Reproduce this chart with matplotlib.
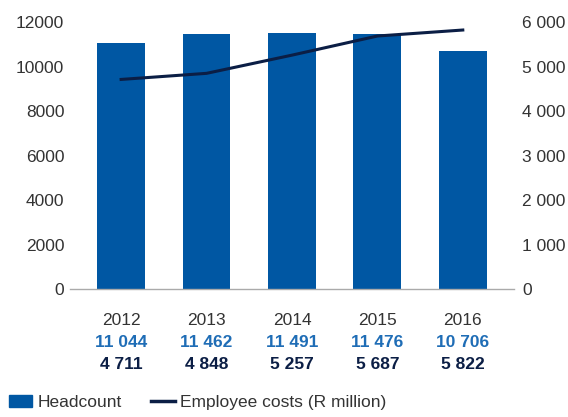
import matplotlib
matplotlib.use("Agg")
import matplotlib.pyplot as plt
from matplotlib.lines import Line2D
from matplotlib.patches import Patch
from matplotlib.ticker import FuncFormatter

plt.rcParams["font.family"] = ["Liberation Sans", "DejaVu Sans"]

years = ["2012", "2013", "2014", "2015", "2016"]
headcount = [11044, 11462, 11491, 11476, 10706]
employee_costs = [4711, 4848, 5257, 5687, 5822]

BAR_COLOR = "#0057A3"
LINE_COLOR = "#0B1E45"
HEAD_TEXT = "#1F6DB6"
TEXT_COLOR = "#333333"
FS = 12.5


def spaced(v):
    return f"{v:,.0f}".replace(",", " ")


fig = plt.figure(figsize=(5.68, 4.17), dpi=100)
ax = fig.add_axes([0.123, 0.307, 0.782, 0.640])
x = range(len(years))

ax.bar(x, headcount, width=0.56, color=BAR_COLOR, zorder=2)
ax.set_ylim(0, 12000)
ax.set_xlim(-0.6, 4.6)
ax.set_yticks(range(0, 12001, 2000))
ax.tick_params(axis="y", length=0, labelsize=FS, labelcolor=TEXT_COLOR, pad=4)
ax.set_xticks(list(x))
ax.set_xticklabels(years)
ax.tick_params(axis="x", length=0, labelsize=FS, labelcolor=TEXT_COLOR, pad=17)
for side in ("top", "right", "left"):
    ax.spines[side].set_visible(False)
ax.spines["bottom"].set_color("#AAAAAA")
ax.spines["bottom"].set_linewidth(1.0)

ax2 = ax.twinx()
ax2.plot(list(x), employee_costs, color=LINE_COLOR, linewidth=2.2, zorder=3)
ax2.set_ylim(0, 6000)
ax2.set_yticks(range(0, 6001, 1000))
ax2.yaxis.set_major_formatter(FuncFormatter(lambda v, _: spaced(v)))
ax2.tick_params(axis="y", length=0, labelsize=FS, labelcolor=TEXT_COLOR, pad=6)
for side in ("top", "right", "left", "bottom"):
    ax2.spines[side].set_visible(False)

# value rows under the year labels
for i in x:
    ax.annotate(spaced(headcount[i]), (i, 0), xycoords=("data", "axes fraction"),
                xytext=(0, -54), textcoords="offset pixels", ha="center", va="center",
                fontsize=FS, fontweight="bold", color=HEAD_TEXT)
    ax.annotate(spaced(employee_costs[i]), (i, 0), xycoords=("data", "axes fraction"),
                xytext=(0, -76), textcoords="offset pixels", ha="center", va="center",
                fontsize=FS, fontweight="bold", color=LINE_COLOR)

handles = [Patch(color=BAR_COLOR), Line2D([0], [0], color=LINE_COLOR, linewidth=2.5)]
fig.legend(handles, ["Headcount", "Employee costs (R million)"], loc="lower left",
           bbox_to_anchor=(-0.012, -0.02), ncol=2, frameon=False, fontsize=FS,
           handlelength=1.35, handletextpad=0.3, columnspacing=1.7,
           labelcolor=TEXT_COLOR)

fig.savefig("out.png", dpi=100)
